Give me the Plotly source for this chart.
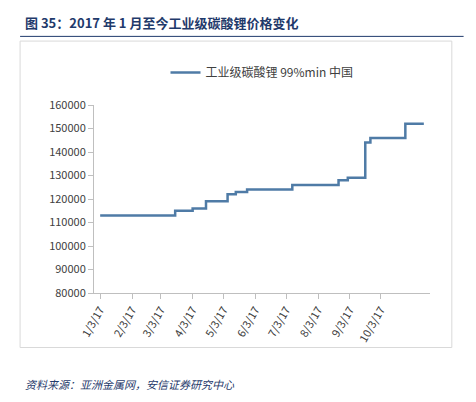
import plotly.graph_objects as go

# step dates and prices (yuan/ton)
dates = ["2017-01-03", "2017-03-17", "2017-04-03", "2017-04-16", "2017-05-07",
         "2017-05-15", "2017-05-26", "2017-07-09", "2017-08-23", "2017-09-01",
         "2017-09-18", "2017-09-23", "2017-10-27", "2017-11-14"]
prices = [113000, 115000, 116000, 119000, 122000,
          123000, 124000, 126000, 128000, 129000,
          144000, 146000, 152000, 152000]

tick_dates = ["2017-01-03", "2017-02-03", "2017-03-03", "2017-04-03", "2017-05-03",
              "2017-06-03", "2017-07-03", "2017-08-03", "2017-09-03", "2017-10-03"]
tick_labels = ["1/3/17", "2/3/17", "3/3/17", "4/3/17", "5/3/17",
               "6/3/17", "7/3/17", "8/3/17", "9/3/17", "10/3/17"]

fig = go.Figure()
fig.add_trace(go.Scatter(x=dates, y=prices, mode="lines", line_shape="hv",
                         line=dict(color="#4f7ba6", width=2.5),
                         name="工业级碳酸锂 99%min 中国"))

fig.update_layout(
    width=476, height=402,
    margin=dict(l=86, r=54, t=97, b=117),
    paper_bgcolor="white", plot_bgcolor="white",
    font=dict(family="Noto Sans CJK SC, sans-serif", size=11, color="#404040"),
    showlegend=True,
    legend=dict(x=0.5, y=1.25, xanchor="center", yanchor="top", orientation="h",
                font=dict(size=12, color="#404040")),
    xaxis=dict(type="date", range=["2016-12-28", "2017-11-20"],
               tickvals=tick_dates, ticktext=tick_labels, tickangle=-60,
               showgrid=False, showline=True, linecolor="#bfbfbf",
               ticks="outside", tickcolor="#bfbfbf"),
    yaxis=dict(range=[80000, 160000], dtick=10000, tickformat="d",
               showgrid=False, showline=True, linecolor="#bfbfbf",
               ticks="outside", tickcolor="#bfbfbf"),
    shapes=[
        dict(type="rect", xref="paper", yref="paper", x0=-0.22, x1=1.065, y0=-0.29, y1=1.34,
             line=dict(color="#d9d9d9", width=1)),
        dict(type="line", xref="paper", yref="paper", x0=-0.22, x1=1.1, y0=1.365, y1=1.365,
             line=dict(color="#1f3a6b", width=1)),
    ],
    annotations=[
        dict(text="<b>图 35：2017 年 1 月至今工业级碳酸锂价格变化</b>", xref="paper", yref="paper",
             x=-0.21, y=1.38, xanchor="left", yanchor="bottom", showarrow=False,
             font=dict(size=13, color="#1f3a6b")),
        dict(text="<i>资料来源：亚洲金属网，安信证券研究中心</i>", xref="paper", yref="paper",
             x=-0.21, y=-0.43, xanchor="left", yanchor="top", showarrow=False,
             font=dict(size=11, color="#1f3a6b")),
    ],
)

fig.write_html("out.html")
